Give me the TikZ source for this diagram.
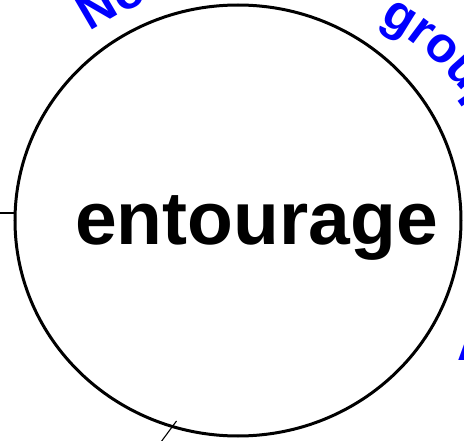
\documentclass[tikz,border=0pt]{standalone}
\usepackage{fontspec}
\setmainfont{Liberation Sans}
\usetikzlibrary{shapes.geometric,decorations.text}
\newcommand{\arcfont}{\fontsize{50}{50}\selectfont\bfseries}
\tikzset{
  mainshape/.style={ellipse, draw=black, line width=3pt, minimum width=446pt, minimum height=431pt, inner sep=0pt},
  mainlabel/.style={font=\fontsize{75}{75}\selectfont\bfseries, anchor=base, inner sep=0pt},
  thinline/.style={draw=black, line width=1.1pt},
  arctext/.style={decorate, decoration={text along path, text color=blue, text align=left}},
  bluelabel/.style={font=\arcfont, text=blue, inner sep=0pt}
}
\begin{document}
\begin{tikzpicture}[x=1pt,y=1pt]
\useasboundingbox (0,0) rectangle (464,440);
\node[mainshape] (ent) at (238,219.5) {};
\node[mainlabel] (lbl) at (256.5,195) {entourage};
% blue arc labels
\coordinate (tc) at (247,175);
\path[arctext, decoration={text={|\arcfont|No}}] (tc) ++(124:281) arc[start angle=124, end angle=95, radius=281];
\path[arctext, decoration={text={|\arcfont|group}}] (tc) ++(61.5:277) arc[start angle=61.5, end angle=10, radius=277];
\node[bluelabel, anchor=base west] (a) at (457.5,80) {A};
% connectors
\coordinate (L) at (-10,227);
\draw[thinline] (L) -- (L -| ent.west);
\coordinate (B1) at (158,-6);
\coordinate (B2) at (176.5,19);
\draw[thinline] (B1) -- (B2);
\end{tikzpicture}
\end{document}
